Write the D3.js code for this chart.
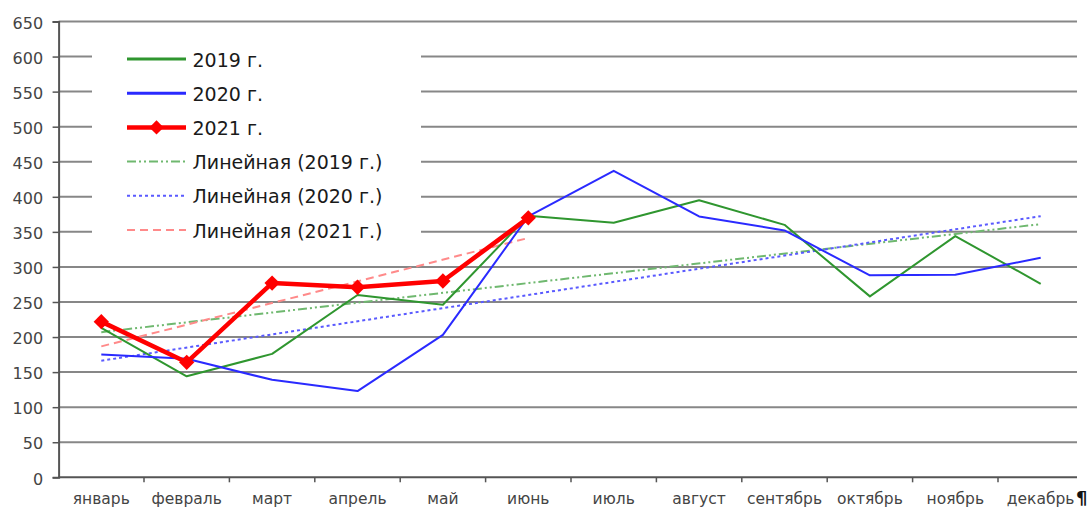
<!DOCTYPE html>
<html>
<head>
<meta charset="utf-8">
<script src="https://cdn.jsdelivr.net/npm/d3@7"></script>
<style>
  html, body { margin: 0; padding: 0; background: #fff; }
  svg { display: block; font-family: "DejaVu Sans", Verdana, sans-serif; }
</style>
</head>
<body>
<svg id="chart" width="1090" height="508"></svg>
<script>
// Monthly values by year
const months = ["январь", "февраль", "март", "апрель", "май", "июнь",
                "июль", "август", "сентябрь", "октябрь", "ноябрь", "декабрь"];
const values2019 = [213, 144, 176, 260, 246, 373, 363, 395, 360, 258, 344, 276];
const values2020 = [175, 169, 139, 123, 203, 372, 437, 372, 352, 288, 289, 313];
const values2021 = [222, 164, 277, 271, 280, 370];
const yTicks = [0, 50, 100, 150, 200, 250, 300, 350, 400, 450, 500, 550, 600, 650];
const legendLabels = ["2019 г.", "2020 г.", "2021 г.",
                      "Линейная (2019 г.)", "Линейная (2020 г.)", "Линейная (2021 г.)"];

const svg = d3.select("#chart");
const plotLeft = 58.6, plotRight = 1083.4, gridRight = 1077, plotTop = 21.5, plotBottom = 477.3;

const x = d3.scaleBand().domain(months).range([plotLeft, plotRight]).padding(0);
const y = d3.scaleLinear().domain([0, 650]).range([plotBottom, plotTop]);
const cx = m => x(m) + x.bandwidth() / 2;

// Horizontal gridlines
svg.append("g").selectAll("line").data(yTicks.filter(v => v > 0)).join("line")
  .attr("x1", plotLeft).attr("x2", gridRight)
  .attr("y1", d => y(d)).attr("y2", d => y(d))
  .attr("stroke", "#878787").attr("stroke-width", 2);

// Y axis
const yAxis = svg.append("g").attr("transform", `translate(${plotLeft},0)`)
  .call(d3.axisLeft(y).tickValues(yTicks).tickSize(6).tickPadding(9.5));
yAxis.select(".domain").attr("stroke", "#555").attr("stroke-width", 2);
yAxis.selectAll(".tick line").attr("stroke", "#555").attr("stroke-width", 1.5);
yAxis.selectAll(".tick text").attr("fill", "#444").attr("font-size", 16)
  .attr("font-family", "DejaVu Sans, Verdana, sans-serif").attr("dy", "0.42em");

// X axis baseline and boundary ticks
svg.append("line").attr("x1", plotLeft).attr("x2", gridRight)
  .attr("y1", plotBottom).attr("y2", plotBottom).attr("stroke", "#555").attr("stroke-width", 2);
svg.append("g").selectAll("line").data(months.slice(1)).join("line")
  .attr("x1", d => x(d)).attr("x2", d => x(d))
  .attr("y1", plotBottom).attr("y2", plotBottom + 5)
  .attr("stroke", "#555").attr("stroke-width", 1.5);
svg.append("g").selectAll("text").data(months).join("text")
  .attr("x", d => cx(d)).attr("y", 504)
  .attr("text-anchor", "middle").attr("font-size", 15.5).attr("fill", "#444")
  .text(d => d);
svg.append("text").attr("x", 1076).attr("y", 504)
  .attr("font-size", 18).attr("font-weight", "bold").attr("fill", "#111").text("¶");

// Least-squares trend over the months a series covers
function trend(vals) {
  const n = vals.length;
  const xs = d3.range(1, n + 1);
  const mx = d3.mean(xs), my = d3.mean(vals);
  const sxy = d3.sum(xs, (xi, i) => (xi - mx) * (vals[i] - my));
  const sxx = d3.sum(xs, xi => (xi - mx) * (xi - mx));
  const b = sxy / sxx, a = my - b * mx;
  return [a + b * 1, a + b * n];
}

const series = [
  { vals: values2019, color: "#2f962f", width: 2 },
  { vals: values2020, color: "#2a2aff", width: 2 },
  { vals: values2021, color: "#ff0000", width: 4.5, marker: true }
];
const trends = [
  { vals: values2019, color: "#6fb86f", dash: "9,3,2,3,2,3" },
  { vals: values2020, color: "#5a5aff", dash: "3,3" },
  { vals: values2021, color: "#ff8a8a", dash: "8,5" }
];

const line = d3.line().x((d, i) => cx(months[i])).y(d => y(d));

// Legend box (white backing over the gridlines)
svg.append("rect").attr("x", 92).attr("y", 40).attr("width", 329).attr("height", 206)
  .attr("fill", "#fff");

// Trend lines
trends.forEach(t => {
  const [v0, v1] = trend(t.vals);
  svg.append("line")
    .attr("x1", cx(months[0])).attr("y1", y(v0))
    .attr("x2", cx(months[t.vals.length - 1])).attr("y2", y(v1))
    .attr("stroke", t.color).attr("stroke-width", 2).attr("stroke-dasharray", t.dash);
});

// Data series
series.forEach(s => {
  svg.append("path").datum(s.vals).attr("d", line)
    .attr("fill", "none").attr("stroke", s.color).attr("stroke-width", s.width)
    .attr("stroke-linejoin", "round");
  if (s.marker) {
    svg.append("g").selectAll("path").data(s.vals).join("path")
      .attr("transform", (d, i) => `translate(${cx(months[i])},${y(d)})`)
      .attr("d", d3.symbol(d3.symbolDiamond2, 150))
      .attr("fill", s.color);
  }
});

// Legend entries
const legendStyles = [
  { color: "#2f962f", width: 3 },
  { color: "#2a2aff", width: 3 },
  { color: "#ff0000", width: 4.5, marker: true },
  { color: "#6fb86f", width: 2, dash: "9,3,2,3,2,3" },
  { color: "#5a5aff", width: 2, dash: "3,3" },
  { color: "#ff8a8a", width: 2, dash: "8,5" }
];
const lg = svg.append("g");
legendLabels.forEach((lab, i) => {
  const ly = 59 + i * 34.2;
  const st = legendStyles[i];
  lg.append("line").attr("x1", 127).attr("x2", 186).attr("y1", ly).attr("y2", ly)
    .attr("stroke", st.color).attr("stroke-width", st.width)
    .attr("stroke-dasharray", st.dash || null);
  if (st.marker) {
    lg.append("path").attr("transform", `translate(156.5,${ly})`)
      .attr("d", d3.symbol(d3.symbolDiamond2, 130)).attr("fill", st.color);
  }
  lg.append("text").attr("x", 192.5).attr("y", ly + 7.5)
    .attr("font-size", 19).attr("fill", "#1a1a1a").text(lab);
});
</script>
</body>
</html>
